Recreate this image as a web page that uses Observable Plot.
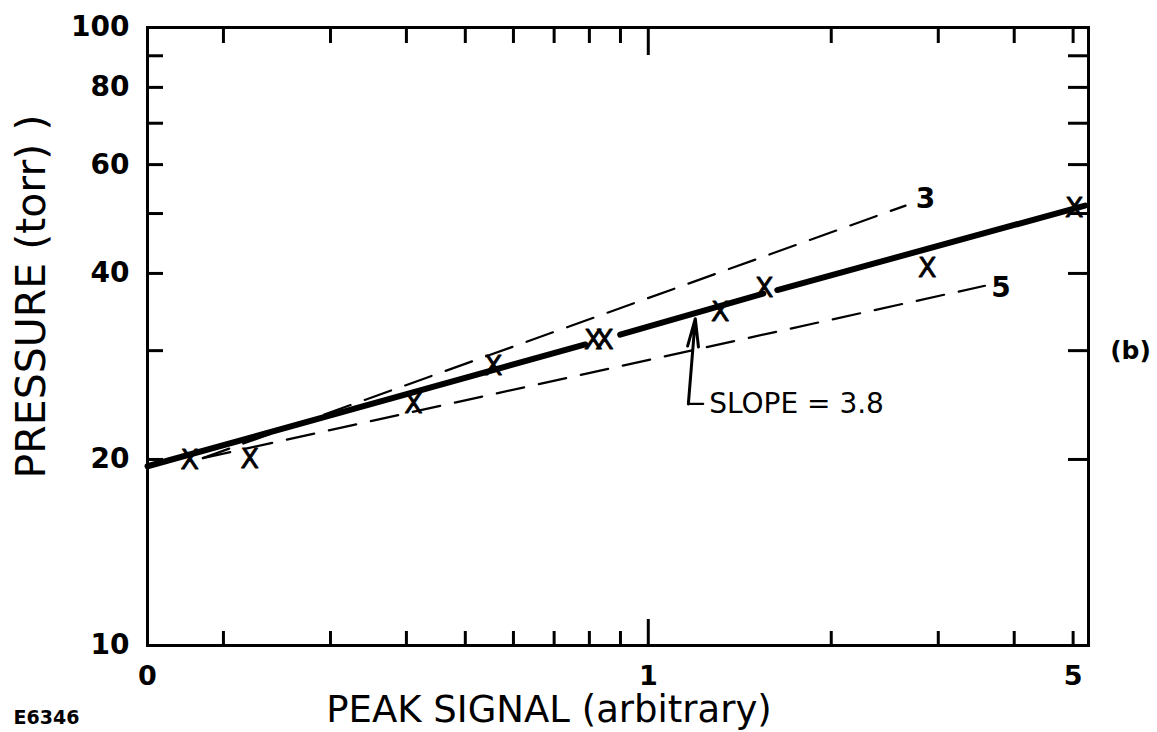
<!DOCTYPE html>
<html><head><meta charset="utf-8">
<script src="https://cdn.jsdelivr.net/npm/d3@7"></script>
<script src="https://cdn.jsdelivr.net/npm/@observablehq/plot@0.6"></script>
<style>body{margin:0;background:#fff} #chart svg{display:block}</style>
</head><body><div id="chart"></div>
<script>
// ---- data ----
const signal   = [0.176, 0.221, 0.411, 0.556, 0.812, 0.847, 1.313, 1.552, 2.877, 5.02];
const pressure = [19.9, 20.0, 24.6, 28.3, 31.2, 31.2, 34.6, 37.9, 40.7, 50.9];

// heavy "slope = 3.8" line, drawn in pieces (gaps at markers)
const fitSegment  = [0, 0, 1, 1, 2, 2];
const fitSignal   = [0.15, 0.788, 0.899, 1.546, 1.63, 5.23];
const fitPressure = [19.5, 30.7, 31.85, 37.1, 37.6, 51.5];

// dashed reference lines (slope 3 and 5)
const slope3Signal   = [0.185, 2.65];
const slope3Pressure = [20.1, 51.5];
const slope5Signal   = [0.185, 3.58];
const slope5Pressure = [20.1, 38.2];
const dashLabels = ["3", "5"];

// annotation leader
const leaderSignal   = [1.231, 1.164];
const leaderPressure = [24.6, 24.6];
const arrowSignal    = [1.164, 1.195];
const arrowPressure  = [24.6, 33.8];
const annotationText = "SLOPE = 3.8";

// axes
const signalDomain = [0.15, 5.3];
const pressureDomain = [10, 100];
const pressureTicks = [20, 30, 40, 50, 60, 70, 80, 90];
const pressureLabels = [10, 20, 40, 60, 80, 100];
const signalMinorTicks = [0.2, 0.3, 0.4, 0.5, 0.6, 0.7, 0.8, 0.9, 2, 3, 4, 5];
const signalMajorTicks = [1];
const signalLabelValues = [0.15, 1, 5];
const signalLabelTexts = ["0", "1", "5"];

// ---- build ----
const points = signal.map((s, i) => ({s, p: pressure[i]}));
const fit = fitSignal.map((s, i) => ({s, p: fitPressure[i], g: fitSegment[i]}));
const dashed = [
  ...slope3Signal.map((s, i) => ({s, p: slope3Pressure[i], g: "3"})),
  ...slope5Signal.map((s, i) => ({s, p: slope5Pressure[i], g: "5"}))
];
const end3 = [{s: slope3Signal[1], p: slope3Pressure[1], t: dashLabels[0]}];
const end5 = [{s: slope5Signal[1], p: slope5Pressure[1], t: dashLabels[1]}];
const leader = leaderSignal.map((s, i) => ({s, p: leaderPressure[i]}));

const W = 1157, H = 732, mL = 147, mR = 69, mT = 27, mB = 87;
const plotH = H - mT - mB, plotW = W - mL - mR;
const F = "DejaVu Sans";
const T = {fontFamily: F, lineAnchor: "middle", fill: "black"};

const chart = Plot.plot({
  width: W, height: H,
  marginLeft: mL, marginRight: mR, marginTop: mT, marginBottom: mB,
  x: {type: "log", domain: signalDomain, axis: null},
  y: {type: "log", domain: pressureDomain, axis: null},
  style: {fontFamily: F, background: "white", color: "black"},
  marks: [
    // dashed lines
    Plot.line(dashed, {x: "s", y: "p", z: "g", stroke: "black", strokeWidth: 2.2, strokeDasharray: "28,15"}),
    Plot.text(end3, {...T, x: "s", y: "p", text: "t", dx: 20, dy: -7, fontSize: 28, fontWeight: "bold"}),
    Plot.text(end5, {...T, x: "s", y: "p", text: "t", dx: 16, dy: 2, fontSize: 28, fontWeight: "bold"}),
    // heavy line
    Plot.line(fit, {x: "s", y: "p", z: "g", stroke: "black", strokeWidth: 6, strokeLinecap: "round"}),
    // markers
    Plot.text(points, {...T, x: "s", y: "p", text: () => "X", fontSize: 27, stroke: "black", strokeWidth: 0.8}),
    // annotation
    Plot.line(leader, {x: "s", y: "p", stroke: "black", strokeWidth: 2.2}),
    Plot.arrow([0], {x1: () => arrowSignal[0], y1: () => arrowPressure[0], x2: () => arrowSignal[1], y2: () => arrowPressure[1],
      stroke: "black", strokeWidth: 3, headLength: 20, headAngle: 22}),
    Plot.text([annotationText], {...T, x: () => leaderSignal[0], y: () => leaderPressure[0], text: d => d, textAnchor: "start", dx: 6, fontSize: 28}),
    // frame and ticks
    Plot.frame({stroke: "black", strokeWidth: 3}),
    Plot.tickX(signalMinorTicks, {x: d => d, insetTop: plotH - 14, stroke: "black", strokeWidth: 3}),
    Plot.tickX(signalMinorTicks, {x: d => d, insetBottom: plotH - 16, stroke: "black", strokeWidth: 3}),
    Plot.tickX(signalMajorTicks, {x: d => d, insetTop: plotH - 26, stroke: "black", strokeWidth: 3}),
    Plot.tickX(signalMajorTicks, {x: d => d, insetBottom: plotH - 28, stroke: "black", strokeWidth: 3}),
    Plot.tickY(pressureTicks, {y: d => d, insetRight: plotW - 16, stroke: "black", strokeWidth: 3}),
    Plot.tickY(pressureTicks, {y: d => d, insetLeft: plotW - 20, stroke: "black", strokeWidth: 3}),
    // tick labels
    Plot.text(pressureLabels, {...T, y: d => d, text: d => String(d), frameAnchor: "left", textAnchor: "end", dx: -18, fontSize: 28, fontWeight: "bold"}),
    Plot.text(d3.range(signalLabelValues.length), {...T, x: i => signalLabelValues[i], text: i => signalLabelTexts[i], frameAnchor: "bottom", textAnchor: "middle", dy: 31, fontSize: 27, fontWeight: "bold"}),
    // titles
    Plot.text(["PEAK SIGNAL (arbitrary)"], {...T, text: d => d, frameAnchor: "bottom", textAnchor: "middle", dx: -69, dy: 65, fontSize: 37}),
    Plot.text(["PRESSURE (torr) )"], {...T, text: d => d, frameAnchor: "left", textAnchor: "middle", rotate: -90, dx: -116, dy: -40, fontSize: 41}),
    Plot.text(["(b)"], {...T, text: d => d, frameAnchor: "right", textAnchor: "middle", dx: 42, dy: 14, fontSize: 25, fontWeight: "bold"}),
    Plot.text(["E6346"], {...T, text: d => d, frameAnchor: "bottom-left", textAnchor: "middle", dx: -101, dy: 72, fontSize: 19, fontWeight: "bold"})
  ]
});
document.getElementById("chart").append(chart);
</script>
</body></html>
